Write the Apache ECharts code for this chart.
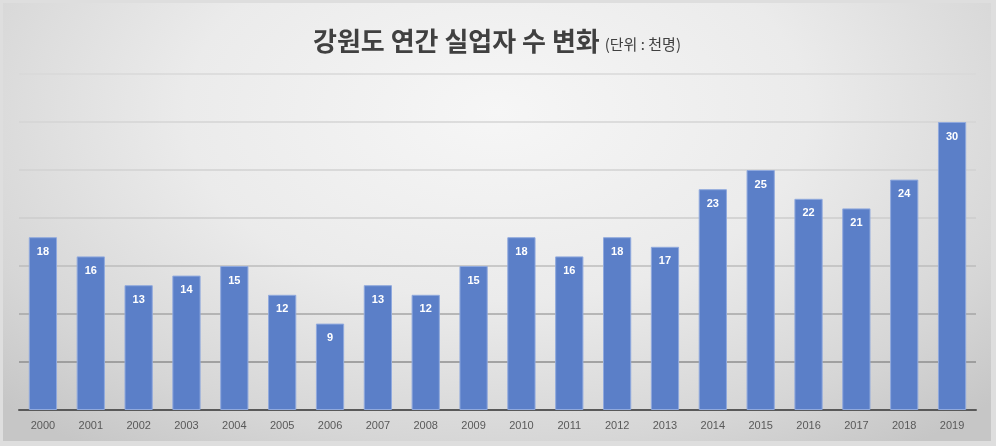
<!DOCTYPE html>
<html><head><meta charset="utf-8">
<script src="https://cdn.jsdelivr.net/npm/echarts@6/dist/echarts.min.js"></script>
<style>
html,body{margin:0;padding:0;background:#dedede;width:996px;height:446px;overflow:hidden}
#c{position:absolute;left:3px;top:3px;width:988px;height:438px;
background:radial-gradient(ellipse 70% 95% at 50% 25%, #f6f6f6 0%, #ebebeb 45%, #d6d6d6 80%, #c6c6c6 100%);}
</style></head>
<body><div id="c"></div>
<script>
const years = ['2000','2001','2002','2003','2004','2005','2006','2007','2008','2009','2010','2011','2012','2013','2014','2015','2016','2017','2018','2019'];
const unemployed = [18,16,13,14,15,12,9,13,12,15,18,16,18,17,23,25,22,21,24,30];
const titleMain = '강원도 연간 실업자 수 변화';
const titleUnit = '(단위 : 천명)';

const chart = echarts.init(document.getElementById('c'), null, {renderer:'canvas'});
chart.setOption({
  backgroundColor: 'transparent',
  title: {
    text: '{a|' + titleMain + '} {b|' + titleUnit + '}',
    left: 'center', top: 20,
    textStyle: {
      rich: {
        a: {fontFamily:'Noto Sans CJK KR', fontSize:26, fontWeight:'bold', color:'#404040'},
        b: {fontFamily:'Noto Sans CJK KR', fontSize:15, fontWeight:'normal', color:'#404040', padding:[6,0,0,0]}
      }
    }
  },
  grid: {left:16, right:15, top:71, bottom:31},
  xAxis: {
    type:'category', data: years,
    axisLine:{show:true, lineStyle:{color:'#595959', width:2}},
    axisTick:{show:false},
    axisLabel:{color:'#595959', fontFamily:'Liberation Sans', fontSize:11, margin:10}
  },
  yAxis: {
    type:'value', min:0, max:35, interval:5,
    axisLabel:{show:false}, axisLine:{show:false}, axisTick:{show:false},
    splitLine:{lineStyle:{width:1.5, color:['#595959','#8e8e8e','#a6a6a6','#bdbdbd','#cccccc','#d2d2d2','#d4d4d4','#d8d8d8']}}
  },
  series: [{
    type:'bar', data: unemployed, barCategoryGap:'41%',
    itemStyle:{color:'#5b7fc8', borderColor:'#90a9dd', borderWidth:1},
    label:{show:true, position:'insideTop', distance:9, color:'#ffffff', fontWeight:'bold', fontSize:11, fontFamily:'Liberation Sans'},
    animation:false
  }],
  animation:false
});
</script></body></html>
